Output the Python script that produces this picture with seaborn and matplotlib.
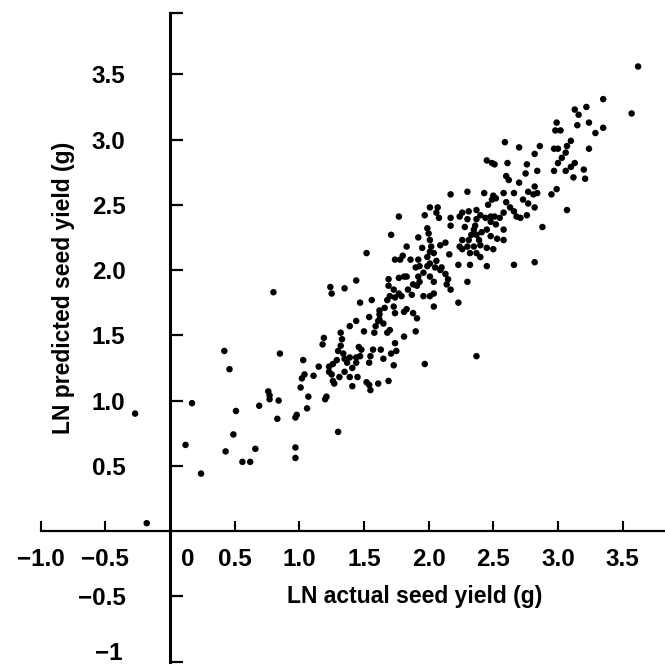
import matplotlib
matplotlib.use("Agg")
import matplotlib.pyplot as plt
import seaborn as sns
import pandas as pd

# LN actual seed yield (g) and LN predicted seed yield (g)
x_actual = [
    -0.27, -0.18, 0.42, 0.80,
    0.46, 0.17, 0.51, 0.12, 0.49, 0.43, 0.24, 0.56, 0.62, 0.66, 0.69, 0.76, 0.77, 0.77, 0.84, 0.83, 0.97,
    1.52, 1.44, 1.24, 1.25, 1.35, 1.47, 1.56, 1.62, 1.62, 1.61, 1.59, 1.58, 1.54, 1.44, 1.39, 1.50,
    1.19, 1.18, 1.32, 1.33, 1.32, 1.30, 1.34, 1.35, 1.29, 1.26, 1.23, 1.23, 1.25, 1.26, 1.27, 1.31,
    1.37, 1.39, 1.44, 1.46, 1.47, 1.44, 1.41, 1.35, 1.39, 1.45, 1.48, 1.57, 1.55, 1.54, 1.63, 1.65,
    1.71, 1.75, 1.73, 1.97, 1.69, 1.61, 1.54, 1.52, 1.55, 1.41, 1.03, 1.15, 1.11, 1.04, 1.02, 1.01,
    1.07, 1.21, 1.20, 1.06, 0.98, 0.97, 1.30, 0.97, 0.85, 2.37,
    2.45, 2.49, 2.51, 2.61, 2.76, 2.82, 2.75, 2.84, 2.60, 2.62, 2.70, 2.82, 2.77, 2.81, 2.84, 2.58,
    2.66, 2.50, 2.52, 2.49, 2.43, 2.30, 2.17, 2.46, 2.60, 2.63, 2.66, 2.68, 2.73, 2.77, 2.71, 2.76,
    2.82, 2.58, 2.55, 2.51, 2.48, 2.44, 2.40, 2.37, 2.31, 2.26, 2.24, 2.48, 2.52, 2.58, 2.58, 2.53,
    2.48, 2.45, 2.41, 2.37, 2.36, 2.35, 2.37, 2.33, 2.39, 2.31, 2.30, 2.35, 2.40, 2.45, 2.50, 2.28,
    2.30, 2.26, 2.24, 2.26, 2.32, 2.37, 2.40, 2.23, 2.32, 2.45, 2.66, 2.82, 2.30, 2.17, 2.17, 2.08,
    2.06, 2.01, 2.07, 1.97, 1.77, 1.71, 1.92, 1.99, 2.00, 2.01, 2.02, 2.01, 2.04, 1.99, 1.95, 1.83,
    2.09, 2.13, 2.16, 2.06, 2.10, 2.05, 2.01, 1.99, 1.93, 1.90, 1.92, 1.80, 1.74, 1.78, 1.86, 1.96,
    2.01, 2.04, 1.92, 1.93, 1.91, 2.09, 2.13, 2.15, 2.14, 2.17, 2.04, 2.01, 1.96, 1.81, 1.77, 1.83,
    1.88, 1.84, 1.87, 1.69, 1.69, 1.73, 1.77, 1.79, 1.74, 1.70, 1.73, 1.74, 1.81, 1.83, 1.88, 1.91,
    2.04, 2.23, 1.68, 1.66, 1.62, 1.65, 1.70, 1.68, 1.90, 1.81, 1.74,
    3.62, 3.57, 3.35, 3.22, 3.13, 3.16, 3.15, 3.24, 3.35, 3.29, 2.99, 2.98, 3.02, 3.10, 3.07, 3.06,
    3.03, 3.00, 2.97, 3.00, 3.24, 2.59, 2.70, 2.86, 3.13, 3.10, 3.06, 2.97, 3.20, 3.21, 3.12, 2.99,
    2.95, 3.07, 2.88,
]
y_predicted = [
    0.90, 0.06, 1.38, 1.83,
    1.24, 0.98, 0.92, 0.66, 0.74, 0.61, 0.44, 0.53, 0.53, 0.63, 0.96, 1.07, 1.04, 1.01, 1.00, 0.86, 0.56,
    2.13, 1.92, 1.87, 1.82, 1.86, 1.75, 1.77, 1.69, 1.66, 1.61, 1.57, 1.52, 1.64, 1.61, 1.57, 1.53,
    1.48, 1.43, 1.52, 1.47, 1.42, 1.38, 1.36, 1.32, 1.31, 1.28, 1.26, 1.22, 1.20, 1.15, 1.13, 1.18,
    1.29, 1.33, 1.33, 1.41, 1.34, 1.29, 1.25, 1.22, 1.18, 1.18, 1.39, 1.39, 1.34, 1.29, 1.39, 1.32,
    1.36, 1.38, 1.27, 1.28, 1.15, 1.13, 1.12, 1.14, 1.08, 1.11, 1.31, 1.26, 1.19, 1.20, 1.17, 1.10,
    1.03, 1.03, 1.01, 0.94, 0.89, 0.87, 0.76, 0.64, 1.36, 1.34,
    2.84, 2.82, 2.81, 2.82, 2.81, 2.89, 2.74, 2.76, 2.72, 2.69, 2.67, 2.64, 2.60, 2.58, 2.59, 2.59,
    2.59, 2.57, 2.55, 2.54, 2.59, 2.60, 2.58, 2.50, 2.52, 2.48, 2.45, 2.41, 2.54, 2.51, 2.40, 2.42,
    2.48, 2.44, 2.40, 2.41, 2.41, 2.40, 2.42, 2.46, 2.45, 2.44, 2.41, 2.37, 2.35, 2.31, 2.23, 2.24,
    2.26, 2.31, 2.29, 2.39, 2.34, 2.31, 2.27, 2.27, 2.23, 2.23, 2.18, 2.18, 2.19, 2.17, 2.16, 2.33,
    2.39, 2.23, 2.18, 2.16, 2.13, 2.13, 2.10, 2.04, 2.04, 2.03, 2.04, 2.06, 1.91, 2.34, 2.40, 2.40,
    2.44, 2.48, 2.48, 2.42, 2.41, 2.27, 2.25, 2.32, 2.28, 2.23, 2.18, 2.14, 2.13, 2.10, 2.17, 2.18,
    2.19, 2.21, 2.12, 2.07, 2.02, 2.02, 2.05, 2.03, 2.03, 2.02, 2.08, 2.11, 2.08, 2.08, 2.08, 1.98,
    1.95, 1.91, 1.95, 1.91, 1.88, 2.00, 1.97, 1.93, 1.89, 1.85, 1.82, 1.80, 1.80, 1.95, 1.94, 1.95,
    1.89, 1.85, 1.81, 1.93, 1.88, 1.85, 1.82, 1.80, 1.79, 1.80, 1.72, 1.67, 1.68, 1.70, 1.67, 1.63,
    1.72, 1.75, 1.77, 1.71, 1.62, 1.59, 1.54, 1.52, 1.53, 1.49, 1.44,
    3.56, 3.20, 3.31, 3.25, 3.23, 3.19, 3.11, 3.13, 3.09, 3.05, 3.13, 3.07, 3.07, 2.99, 2.95, 2.90,
    2.86, 2.82, 2.93, 2.93, 2.93, 2.98, 2.94, 2.95, 2.82, 2.79, 2.76, 2.76, 2.77, 2.70, 2.71, 2.62,
    2.58, 2.46, 2.33,
]

x_ticks = [-1.0, -0.5, 0.5, 1.0, 1.5, 2.0, 2.5, 3.0, 3.5]
x_tick_labels = ["\u22121.0", "\u22120.5", "0.5", "1.0", "1.5", "2.0", "2.5", "3.0", "3.5"]
y_ticks = [-1.0, -0.5, 0.5, 1.0, 1.5, 2.0, 2.5, 3.0, 3.5, 3.97]
y_tick_labels = ["", "\u22120.5", "0.5", "1.0", "1.5", "2.0", "2.5", "3.0", "3.5", ""]
y_bottom_label = "\u22121"
x_origin_label = "0"
x_title = "LN actual seed yield (g)"
y_title = "LN predicted seed yield (g)"

sns.set_style("white")
plt.rcParams["font.family"] = ["Liberation Sans", "DejaVu Sans"]
plt.rcParams["text.color"] = "black"

fig = plt.figure(figsize=(6.65, 6.65), dpi=100)
ax = fig.add_axes([40.7 / 665, 3.5 / 665, 624.3 / 665, 648.5 / 665])

df = pd.DataFrame({"actual": x_actual, "predicted": y_predicted})
sns.scatterplot(data=df, x="actual", y="predicted", ax=ax, color="black",
                s=22, edgecolor="none", linewidth=0, legend=False)

ax.set_xlim(-1.0, 3.828)
ax.set_ylim(-1.0, 3.97)

for side in ["top", "right"]:
    ax.spines[side].set_visible(False)
ax.spines["left"].set_position(("data", 0))
ax.spines["bottom"].set_position(("data", 0))
ax.spines["left"].set_bounds(-1.0, 3.97)
ax.spines["bottom"].set_bounds(-1.0, 3.828)
ax.spines["left"].set_linewidth(2.2)
ax.spines["bottom"].set_linewidth(1.6)
ax.spines["left"].set_color("black")
ax.spines["bottom"].set_color("black")

ax.set_xticks(x_ticks)
ax.set_xticklabels(x_tick_labels)
ax.set_yticks(y_ticks)
ax.set_yticklabels(y_tick_labels)
ax.tick_params(axis="x", bottom=True, direction="in", length=7.5, width=1.5, pad=12.5,
               labelsize=17.5, colors="black")
ax.tick_params(axis="y", left=True, direction="in", length=9, width=1.6, pad=32,
               labelsize=17.5, colors="black")
for lab in ax.get_xticklabels() + ax.get_yticklabels():
    lab.set_fontweight("bold")

ax.annotate(x_origin_label, xy=(0, 0), xycoords="data", xytext=(12.5, -12.5),
            textcoords="offset points", ha="center", va="top",
            fontsize=17.5, fontweight="bold", color="black")
ax.annotate(y_bottom_label, xy=(0, -1.0), xycoords="data", xytext=(-34, 6),
            textcoords="offset points", ha="right", va="center",
            fontsize=17.5, fontweight="bold", color="black")

ax.set_xlabel("")
ax.set_ylabel("")
fig.text(415 / 665, 1 - 597 / 665, x_title, ha="center", va="center",
         fontsize=16.5, fontweight="bold", color="black")
fig.text(64 / 665, 1 - 288 / 665, y_title, ha="center", va="center",
         rotation=90, fontsize=16.5, fontweight="bold", color="black")

fig.savefig("out.png", dpi=100, facecolor="white")
